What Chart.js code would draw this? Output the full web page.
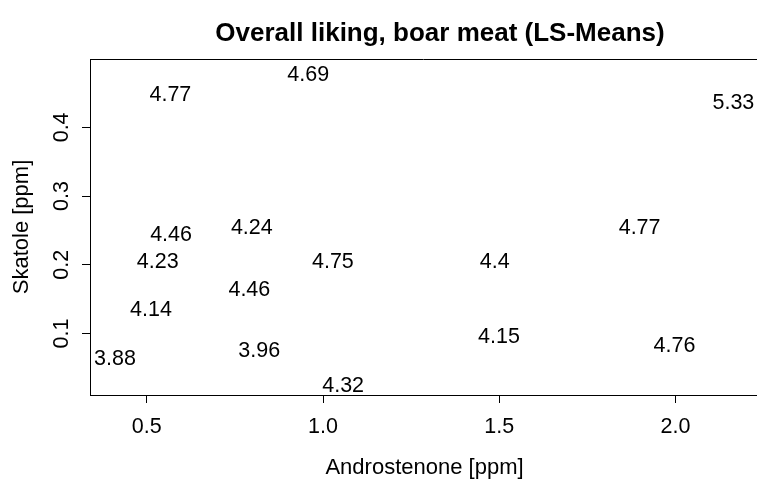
<!DOCTYPE html>
<html lang="en">
<head>
  <meta charset="UTF-8" />
  <title>Overall liking, boar meat (LS-Means)</title>
  <script src="https://cdn.jsdelivr.net/npm/chart.js"></script>
  <style>
    html, body { margin: 0; padding: 0; background: #fff; }
    #wrap { width: 757px; height: 482px; }
  </style>
</head>
<body>
  <div id="wrap"><canvas id="liking" width="757" height="482"></canvas></div>

  <script>
    // LS-means of overall liking placed at (androstenone, skatole)
    const androstenone = [0.567, 0.958, 2.164, 1.898, 0.569, 0.798, 0.531, 1.028, 1.487, 0.791, 0.512, 0.819, 0.410, 1.499, 1.997, 1.057];
    const skatole      = [0.449, 0.478, 0.438, 0.256, 0.246, 0.256, 0.207, 0.206, 0.206, 0.166, 0.136, 0.077, 0.066, 0.097, 0.085, 0.0265];
    const liking       = ['4.77', '4.69', '5.33', '4.77', '4.46', '4.24', '4.23', '4.75', '4.4', '4.46', '4.14', '3.96', '3.88', '4.15', '4.76', '4.32'];

    const xTicks = [0.5, 1.0, 1.5, 2.0];
    const yTicks = [0.1, 0.2, 0.3, 0.4];

    const FONT = '"Liberation Sans", Arial, Helvetica, sans-serif';

    const points = androstenone.map((x, i) => ({ x: x, y: skatole[i] }));

    // draws the numbers, tick labels, titles and the top frame line
    const rText = {
      id: 'rText',
      afterDraw(chart) {
        const ctx = chart.ctx;
        const a = chart.chartArea;
        const sx = chart.scales.x, sy = chart.scales.y;
        ctx.save();
        ctx.fillStyle = '#000';
        ctx.strokeStyle = '#000';
        ctx.lineWidth = 1;

        // top of the box
        ctx.beginPath();
        ctx.moveTo(a.left, Math.round(a.top) + 0.5);
        ctx.lineTo(a.right, Math.round(a.top) + 0.5);
        ctx.stroke();

        ctx.font = '21.5px ' + FONT;
        ctx.textAlign = 'center';
        ctx.textBaseline = 'alphabetic';

        // point labels
        const meta = chart.getDatasetMeta(0);
        meta.data.forEach((el, i) => {
          ctx.fillText(liking[i], el.x, el.y + 7.7);
        });

        // x tick labels
        xTicks.forEach(v => {
          ctx.fillText(v.toFixed(1), sx.getPixelForValue(v), 432.5);
        });

        // y tick labels, rotated
        yTicks.forEach(v => {
          ctx.save();
          ctx.translate(67.5, sy.getPixelForValue(v));
          ctx.rotate(-Math.PI / 2);
          ctx.fillText(v.toFixed(1), 0, 0);
          ctx.restore();
        });

        // axis titles
        ctx.font = '22px ' + FONT;
        ctx.fillText('Androstenone [ppm]', 424.5, 474);
        ctx.save();
        ctx.translate(27.5, (a.top + a.bottom) / 2);
        ctx.rotate(-Math.PI / 2);
        ctx.fillText('Skatole [ppm]', 0, 0);
        ctx.restore();

        // main title
        ctx.font = 'bold 26px ' + FONT;
        ctx.fillText('Overall liking, boar meat (LS-Means)', 440, 41);
        ctx.restore();
      }
    };

    new Chart(document.getElementById('liking'), {
      type: 'scatter',
      data: {
        datasets: [{
          label: 'Overall liking',
          data: points,
          pointRadius: 0,
          pointHoverRadius: 0,
          showLine: false
        }]
      },
      options: {
        responsive: false,
        animation: false,
        events: [],
        layout: { padding: { top: 59, left: 0, right: 0, bottom: 0 } },
        plugins: {
          legend: { display: false },
          tooltip: { enabled: false },
          title: { display: false }
        },
        scales: {
          x: {
            type: 'linear',
            min: 0.339,
            max: 2.231,
            afterBuildTicks: s => { s.ticks = xTicks.map(v => ({ value: v })); },
            afterFit: s => { s.height = 87; },
            ticks: { display: false },
            grid: { drawOnChartArea: false, drawTicks: true, tickLength: 8, color: '#000', lineWidth: 1 },
            border: { display: true, color: '#000', width: 1 }
          },
          y: {
            type: 'linear',
            min: 0.0105,
            max: 0.4995,
            afterBuildTicks: s => { s.ticks = yTicks.map(v => ({ value: v })); },
            afterFit: s => { s.width = 90; },
            ticks: { display: false },
            grid: { drawOnChartArea: false, drawTicks: true, tickLength: 8, color: '#000', lineWidth: 1 },
            border: { display: true, color: '#000', width: 1 }
          }
        }
      },
      plugins: [rText]
    });
  </script>
</body>
</html>
